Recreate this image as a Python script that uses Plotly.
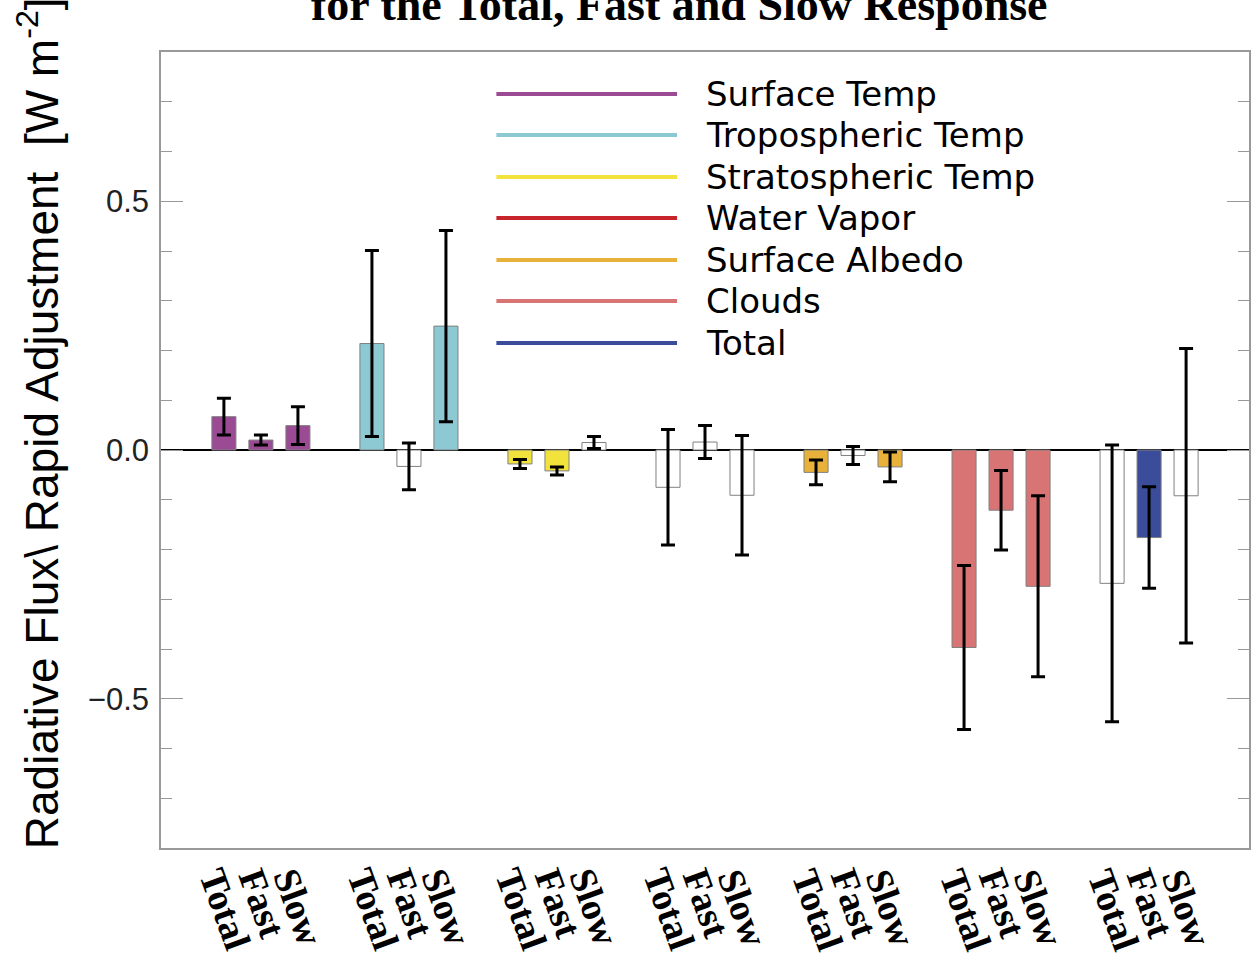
import plotly.graph_objects as go

# ---------------- data ----------------
groups = ["Surface Temp", "Tropospheric Temp", "Stratospheric Temp",
          "Water Vapor", "Surface Albedo", "Clouds", "Total"]
group_colors = ["#9B4A94", "#8CC9D3", "#F1E33C", "#C8242B",
                "#E8B13A", "#D87473", "#3B4C9B"]
responses = ["Total", "Fast", "Slow"]

total_vals = [0.067, 0.214, -0.028, -0.075, -0.045, -0.397, -0.268]
total_errs = [0.037, 0.187, 0.009, 0.116, 0.025, 0.165, 0.278]
fast_vals = [0.020, -0.033, -0.042, 0.016, -0.011, -0.121, -0.176]
fast_errs = [0.010, 0.047, 0.008, 0.033, 0.018, 0.080, 0.102]
slow_vals = [0.049, 0.249, 0.015, -0.091, -0.034, -0.274, -0.092]
slow_errs = [0.038, 0.192, 0.012, 0.120, 0.030, 0.182, 0.296]

# filled bar = coloured, otherwise drawn as an empty (white) box
total_filled = [True, True, True, False, True, True, False]
fast_filled = [True, False, True, False, False, True, True]
slow_filled = [True, True, False, False, True, True, False]

title_text = "for the Total, Fast and Slow Response"
ylabel_text = "Radiative Flux\\ Rapid Adjustment  [W m<sup>-2</sup>]"

# ---------------- figure ----------------
W, H = 1254, 967
ML, MR, MT, MB = 161, 3, 52, 119
PW, PH = W - ML - MR, H - MT - MB

def px_x(p):
    return (p - ML) / PW

def px_y(p):
    return (H - MB - p) / PH

fig = go.Figure()

series = [(total_vals, total_errs, total_filled),
          (fast_vals, fast_errs, fast_filled),
          (slow_vals, slow_errs, slow_filled)]

annotations = []
for j, (vals, errs, filled) in enumerate(series):
    xs = [4 * g + j for g in range(len(groups))]
    fills = [c if f else "white" for c, f in zip(group_colors, filled)]
    fig.add_trace(go.Bar(
        x=xs, y=vals, width=0.65,
        marker=dict(color=fills, line=dict(color="#808080", width=1)),
        error_y=dict(type="data", array=errs, color="black",
                     thickness=3, width=7),
        showlegend=False, name=responses[j],
    ))
    for x in xs:
        annotations.append(dict(
            x=x, y=-0.016, xref="x", yref="paper",
            text="<b>" + responses[j] + "</b>", showarrow=False,
            textangle=70, xanchor="center", yanchor="top", xshift=1,
            font=dict(family="Liberation Serif, Times New Roman, serif",
                      size=38, color="black"),
        ))

# legend drawn as long lines + labels
legend_rows = [94, 135, 177, 218, 260, 301, 343]
shapes = []
for name, col, ry in zip(groups, group_colors, legend_rows):
    shapes.append(dict(type="line", xref="paper", yref="paper",
                       x0=px_x(497), x1=px_x(678), y0=px_y(ry), y1=px_y(ry),
                       line=dict(color=col, width=4)))
    annotations.append(dict(
        x=px_x(705), y=px_y(ry), xref="paper", yref="paper",
        text=name, showarrow=False, xanchor="left", yanchor="middle",
        font=dict(family="DejaVu Sans, Verdana, sans-serif", size=34,
                  color="black"),
    ))

# title (cropped at top as in the reference)
annotations.append(dict(
    x=px_x(680), y=px_y(32), xref="paper", yref="paper",
    text="<b>" + title_text + "</b>", showarrow=False,
    xanchor="center", yanchor="bottom",
    font=dict(family="Liberation Serif, Times New Roman, serif", size=46,
              color="black"),
))

# y-axis label
annotations.append(dict(
    x=px_x(38), y=px_y(851), xref="paper", yref="paper",
    text=ylabel_text, showarrow=False, textangle=-90,
    xanchor="center", yanchor="bottom",
    font=dict(family="Liberation Sans, Arial, sans-serif", size=46,
              color="black"),
))

fig.update_layout(
    width=W, height=H,
    margin=dict(l=ML, r=MR, t=MT, b=MB, pad=0),
    paper_bgcolor="white", plot_bgcolor="white",
    barmode="overlay",
    shapes=shapes, annotations=annotations,
    xaxis=dict(range=[-1.7, 27.7], showticklabels=False, ticks="",
               showline=True, linecolor="#999999", linewidth=1.5,
               mirror=True, showgrid=False, zeroline=False),
    yaxis=dict(range=[-0.8, 0.8], tick0=0, dtick=0.5, tickformat=".1f",
               ticks="inside", ticklen=22, tickwidth=1.2,
               tickcolor="#999999",
               showline=True, linecolor="#999999", linewidth=1.5,
               mirror="ticks", showgrid=False,
               zeroline=True, zerolinecolor="black", zerolinewidth=2,
               tickfont=dict(family="Liberation Sans, Arial, sans-serif",
                             size=31, color="#222222"),
               ticklabelstandoff=4,
               minor=dict(dtick=0.1, tick0=0, ticks="inside", ticklen=11,
                          tickwidth=1.2, tickcolor="#999999",
                          showgrid=False)),
)

fig.write_html(
    "out.html",
    config={"displayModeBar": False},
    post_script="document.body.style.margin='0';"
                "document.body.style.overflow='hidden';",
)
